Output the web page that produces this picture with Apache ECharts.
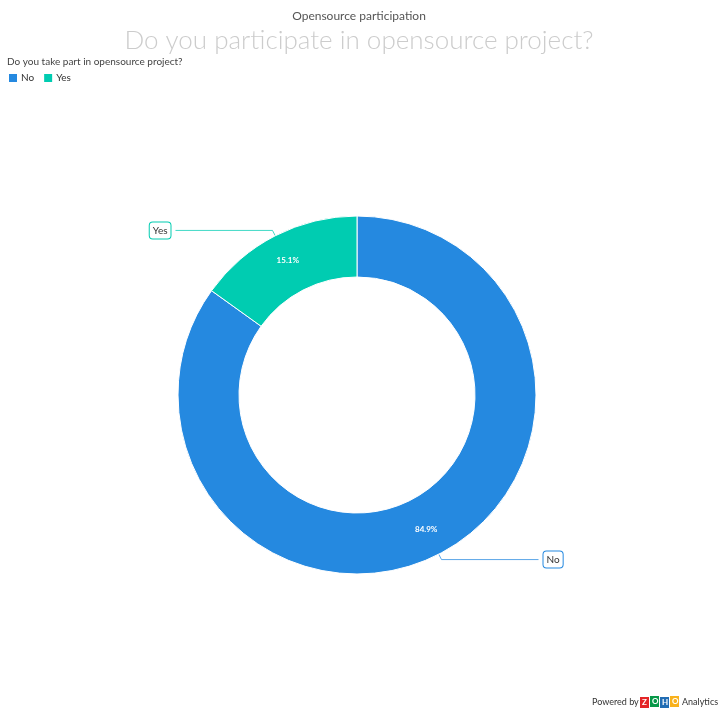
<!DOCTYPE html>
<html><head><meta charset="utf-8">
<script src="https://cdn.jsdelivr.net/npm/echarts@6/dist/echarts.min.js"></script>
<style>html,body{margin:0;padding:0;background:#fff}#c{width:718px;height:718px}</style>
</head><body><div id="c"></div>
<script>
const categories = ['No', 'Yes'];
const values = [84.9, 15.1];
const colors = ['#2589e0', '#00ccb1'];
const chartTitle = 'Opensource participation';
const chartSubtitle = 'Do you participate in opensource project?';
const legendTitle = 'Do you take part in opensource project?';

const data = categories.map((c, i) => ({ name: c, value: values[i], itemStyle: { color: colors[i] } }));
const labelData = categories.map((c, i) => ({
  name: c, value: values[i],
  itemStyle: { color: 'rgba(0,0,0,0)', borderWidth: 0 },
  label: { borderColor: colors[i] },
  labelLine: { lineStyle: { color: colors[i], opacity: 0.75 } }
}));
const font = 'Lato, "Open Sans", sans-serif';
const chart = echarts.init(document.getElementById('c'));
chart.setOption({
  animation: false,
  color: colors,
  title: [
    { text: chartTitle, left: 'center', top: 5, textStyle: { fontSize: 12, fontWeight: 'normal', color: '#555', fontFamily: font } },
    { text: chartSubtitle, left: 'center', top: 23, textStyle: { fontSize: 26, fontWeight: 300, color: '#cccccc', fontFamily: font } },
    { text: legendTitle, left: 2, top: 52, textStyle: { fontSize: 10, fontWeight: 'normal', color: '#444', fontFamily: font } }
  ],
  legend: {
    left: 2, top: 67, itemWidth: 10, itemHeight: 10, itemGap: 8, icon: 'rect',
    data: categories,
    textStyle: { fontSize: 10, color: '#333', fontFamily: font, padding: [0, 0, 0, -2] }
  },
  series: [
    {
      type: 'pie', center: [357, 395], radius: [118, 179], clockwise: true, startAngle: 90,
      data: data,
      itemStyle: { borderColor: '#fff', borderWidth: 1 },
      label: { position: 'inside', formatter: p => p.value.toFixed(1) + '%', color: '#fff', fontSize: 8, fontWeight: 'bold', fontFamily: font },
      labelLine: { show: false }
    },
    {
      type: 'pie', center: [357, 395], radius: [118, 179], clockwise: true, startAngle: 90,
      data: labelData, silent: true,
      label: {
        position: 'outside', formatter: '{b}', color: '#333', fontSize: 10, fontFamily: font,
        backgroundColor: '#fff', borderWidth: 1, borderRadius: 3, padding: [3, 3]
      },
      labelLine: { show: true, length: 6, length2: 97, lineStyle: { width: 1 } }
    }
  ],
  graphic: [
    { type: 'text', left: 592, top: 698, style: { text: 'Powered by', fontSize: 9, fill: '#333', fontFamily: font } },
    { type: 'rect', left: 640, top: 697, shape: { width: 9, height: 11 }, style: { fill: '#e42527' } },
    { type: 'rect', left: 650, top: 696, shape: { width: 9, height: 11 }, style: { fill: '#089949' } },
    { type: 'rect', left: 660, top: 697, shape: { width: 9, height: 11 }, style: { fill: '#226db4' } },
    { type: 'rect', left: 670, top: 696, shape: { width: 9, height: 11 }, style: { fill: '#f9b21d' } },
    { type: 'text', left: 642, top: 698, style: { text: 'Z', fontSize: 8, fontWeight: 'bold', fill: '#fff', fontFamily: font } },
    { type: 'text', left: 652, top: 697, style: { text: 'O', fontSize: 8, fontWeight: 'bold', fill: '#fff', fontFamily: font } },
    { type: 'text', left: 662, top: 698, style: { text: 'H', fontSize: 8, fontWeight: 'bold', fill: '#fff', fontFamily: font } },
    { type: 'text', left: 672, top: 697, style: { text: 'O', fontSize: 8, fontWeight: 'bold', fill: '#fff', fontFamily: font } },
    { type: 'text', left: 682, top: 698, style: { text: 'Analytics', fontSize: 9, fill: '#333', fontFamily: font } }
  ]
});
</script></body></html>
